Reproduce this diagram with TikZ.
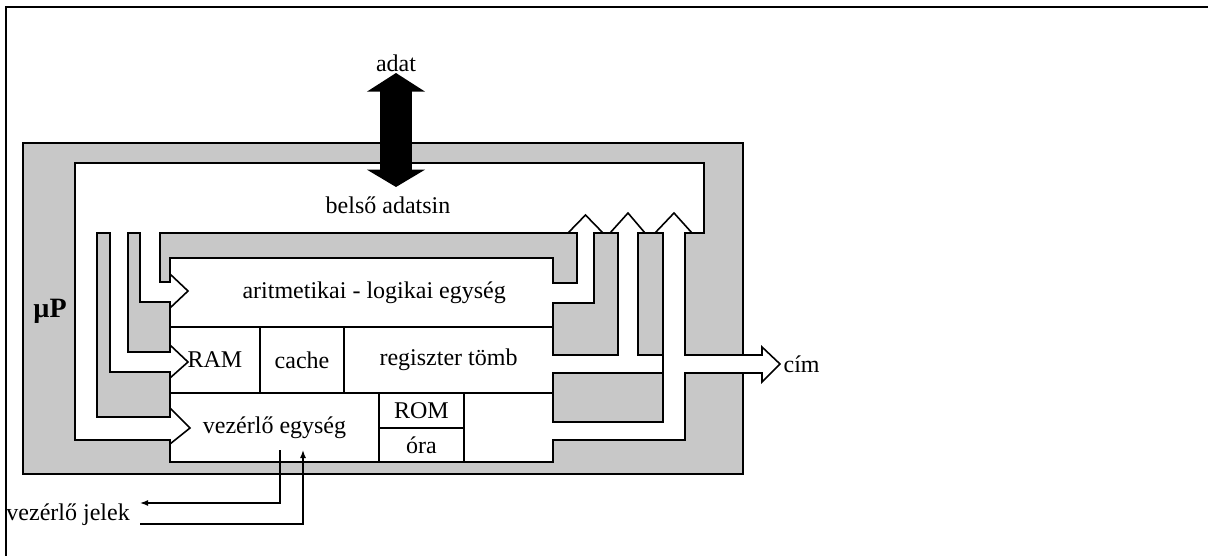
\documentclass[tikz,border=0pt]{standalone}
\usepackage{fontspec}
\setmainfont{Liberation Serif}
\usetikzlibrary{arrows.meta,positioning}
\definecolor{chipgray}{RGB}{200,200,200}

\begin{document}
\begin{tikzpicture}[x=0.75pt,y=-0.75pt,
 wire/.style={draw=black,line width=1.2pt},
 busfill/.style={wire,fill=white},
 holefill/.style={wire,fill=chipgray},
 lbl/.style={font=\fontsize{18}{20}\selectfont,inner sep=1pt},
 cell/.style={lbl,anchor=north west,inner sep=0pt,outer sep=0pt},
 sig/.style={line width=1.1pt,-{Latex[length=6pt,width=4.5pt]}},
 databus/.style={line width=24pt,{Triangle[length=14pt,width=43pt]}-{Triangle[length=13pt,width=43pt]}}]
 \useasboundingbox (0,0) rectangle (1208,556);
 \draw[line width=1.6pt] (6,570) -- (6,7) -- (1220,7);
 % chip with internal data bus
 \draw[wire,fill=chipgray] (23,143) rectangle (743,474);
 \path[busfill] (75,163) -- (704,163) -- (704,233) -- (685,233) -- (685,355)
   -- (762,355) -- (762,347) -- (780,364) -- (762,382) -- (762,373) -- (685,373)
   -- (685,440) -- (553,440) -- (553,462) -- (170,462) -- (170,440) -- (75,440) -- cycle;
 \path[holefill] (97,233) -- (110,233) -- (110,372) -- (170,372) -- (170,417) -- (97,417) -- cycle;
 \path[holefill] (128,233) -- (140,233) -- (140,302) -- (170,302) -- (170,352) -- (128,352) -- cycle;
 \path[holefill] (160,233) -- (577,233) -- (577,283) -- (553,283) -- (553,258) -- (170,258)
   -- (170,282) -- (160,282) -- cycle;
 \path[holefill] (594,233) -- (618,233) -- (618,355) -- (553,355) -- (553,303) -- (594,303) -- cycle;
 \path[holefill] (638,233) rectangle (663,355);
 \path[holefill] (553,373) rectangle (663,422);
 \draw[wire] (663,355) -- (663,373);
 % units
 \node[cell,minimum width=287.25pt,minimum height=51.75pt] (alu) at (170,258)
   {\hspace*{19pt}aritmetikai - logikai egység};
 \node[cell,minimum width=67.5pt,minimum height=49.5pt,below right=0pt and 0pt of alu.south west] (ram) {RAM};
 \node[cell,anchor=west,minimum width=63pt,minimum height=49.5pt,right=0pt of ram] (cache) {cache};
 \node[cell,anchor=west,minimum width=156.75pt,minimum height=49.5pt,right=0pt of cache] (regs) {regiszter tömb};
 \node[cell,minimum width=156.75pt,minimum height=51.75pt,below right=0pt and 0pt of ram.south west] (vez) {vezérlő egység};
 \node[cell,minimum width=63.75pt,minimum height=26.25pt,below right=0pt and 0pt of vez.north east] (rom) {ROM};
 \node[cell,anchor=north,minimum width=63.75pt,minimum height=25.5pt,below=0pt of rom] (ora) {óra};
 \draw[wire] (alu.south west) -- (alu.south east);
 \draw[wire] (vez.north west) -- (regs.south east);
 \draw[wire] (ram.north east) -- (ram.south east);
 \draw[wire] (cache.north east) -- (cache.south east);
 \draw[wire] (vez.north east) -- (vez.south east);
 \draw[wire] (rom.north east) -- (ora.south east);
 \draw[wire] (rom.south west) -- (rom.south east);
 % arrow heads of the bus branches
 \draw[wire] (170,274) -- (188,291) -- (170,308);
 \draw[wire] (170,345) -- (188,362) -- (170,378);
 \draw[wire] (170,408) -- (190,428) -- (170,444);
 \draw[wire] (568,233) -- (585.5,215) -- (603,233);
 \draw[wire] (610,233) -- (628,213) -- (645,233);
 \draw[wire] (655,233) -- (674,213) -- (692,233);
 % labels
 \node[lbl] (bus) at (388,205) {belső adatsin};
 \node[lbl,anchor=south] (adat) at (396,73) {adat};
 \coordinate (busin) at (396,187);
 \draw[databus] (adat.south) -- (busin);
 \node[lbl,font=\fontsize{21}{22}\selectfont\bfseries] (mup) at (50,311) {µP};
 \node[lbl,anchor=west] (cim) at (782,364) {cím};
 \node[lbl,anchor=east,inner xsep=7.5pt] (jelek) at (140,515) {vezérlő jelek};
 \coordinate (outA) at (280,450);
 \coordinate (inB) at (303,450);
 \draw[sig] (outA) |- ([yshift=9pt]jelek.east);
 \draw[sig] ([yshift=-6.75pt]jelek.east) -| (inB);
\end{tikzpicture}
\end{document}
